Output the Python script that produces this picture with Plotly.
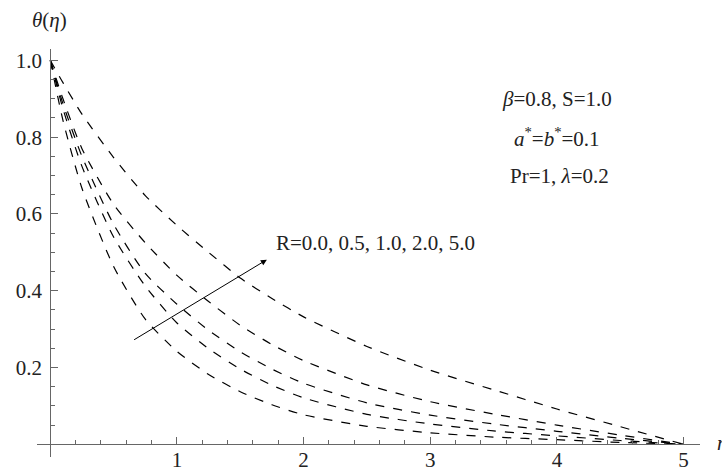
import plotly.graph_objects as go

# ---- data ----
eta = [0, 0.1, 0.25, 0.5, 0.75, 1.0, 1.25, 1.5, 1.75, 2.0, 2.5, 3.0, 3.5, 4.0, 4.5, 5.0]
theta_R0 = [1, 0.844, 0.667, 0.463, 0.326, 0.242, 0.182, 0.137, 0.103, 0.077, 0.047, 0.030, 0.019, 0.012, 0.005, 0]
theta_R05 = [1, 0.874, 0.724, 0.540, 0.412, 0.316, 0.249, 0.196, 0.154, 0.121, 0.078, 0.053, 0.035, 0.022, 0.010, 0]
theta_R1 = [1, 0.887, 0.750, 0.573, 0.445, 0.365, 0.297, 0.241, 0.196, 0.159, 0.108, 0.076, 0.053, 0.034, 0.016, 0]
theta_R2 = [1, 0.900, 0.770, 0.625, 0.525, 0.440, 0.372, 0.310, 0.260, 0.218, 0.155, 0.111, 0.079, 0.050, 0.024, 0]
theta_R5 = [1, 0.942, 0.860, 0.747, 0.648, 0.570, 0.500, 0.433, 0.380, 0.332, 0.255, 0.193, 0.142, 0.092, 0.046, 0]
series = [("R=0.0", theta_R0), ("R=0.5", theta_R05), ("R=1.0", theta_R1),
          ("R=2.0", theta_R2), ("R=5.0", theta_R5)]

x_ticks = [1, 2, 3, 4, 5]
x_tick_text = ["1", "2", "3", "4", "5"]
y_ticks = [0.2, 0.4, 0.6, 0.8, 1.0]
y_tick_text = ["0.2", "0.4", "0.6", "0.8", "1.0"]

FONT = "Liberation Serif, Times New Roman, serif"
AXC = "#666666"
TXT = "#222222"
FS = 21

fig = go.Figure()
for name, vals in series:
    fig.add_trace(go.Scatter(
        x=eta, y=vals, mode="lines", name=name,
        line=dict(color="black", width=1.2, dash="9px,9px", shape="spline", smoothing=0.6),
        showlegend=False,
    ))

xr = [-0.105, 5.13]
yr = [-0.033, 1.0297]
xpos = (0 - yr[0]) / (yr[1] - yr[0])   # paper y of theta = 0
ypos = (0 - xr[0]) / (xr[1] - xr[0])   # paper x of eta = 0

fig.update_layout(
    width=722, height=471,
    margin=dict(l=36.7, r=22, t=49.3, b=13.9, autoexpand=False),
    paper_bgcolor="white", plot_bgcolor="white",
    font=dict(family=FONT, size=FS, color=TXT),
    xaxis=dict(
        range=xr, anchor="free", position=xpos, automargin=False,
        showline=True, linecolor=AXC, linewidth=1,
        showgrid=False, zeroline=False,
        tickmode="array", tickvals=x_ticks, ticktext=x_tick_text,
        ticks="inside", ticklen=7, tickcolor=AXC, tickwidth=1,
        minor=dict(dtick=0.2, tick0=0, ticks="inside", ticklen=4, tickcolor=AXC, tickwidth=1, showgrid=False),
        tickfont=dict(family=FONT, size=FS, color=TXT),
        ticklabelstandoff=-4,
    ),
    yaxis=dict(
        range=yr, anchor="free", position=ypos, automargin=False,
        showline=True, linecolor=AXC, linewidth=1,
        showgrid=False, zeroline=False,
        tickmode="array", tickvals=y_ticks, ticktext=y_tick_text,
        ticks="inside", ticklen=7, tickcolor=AXC, tickwidth=1,
        minor=dict(dtick=0.05, tick0=0, ticks="inside", ticklen=4, tickcolor=AXC, tickwidth=1, showgrid=False),
        tickfont=dict(family=FONT, size=FS, color=TXT),
        ticklabelstandoff=4,
    ),
)

ann_font = dict(family=FONT, size=FS, color=TXT)
fig.add_annotation(x=4.0, y=0.9, xref="x", yref="y", text="<i>β</i>=0.8, S=1.0",
                   showarrow=False, font=ann_font, xanchor="center", yanchor="middle")
fig.add_annotation(x=4.0, y=0.8, xref="x", yref="y",
                   text="<i>a</i><sup>*</sup>=<i>b</i><sup>*</sup>=0.1",
                   showarrow=False, font=ann_font, xanchor="center", yanchor="middle")
fig.add_annotation(x=4.02, y=0.7, xref="x", yref="y", text="Pr=1, <i>λ</i>=0.2",
                   showarrow=False, font=ann_font, xanchor="center", yanchor="middle")
fig.add_annotation(x=2.565, y=0.525, xref="x", yref="y", text="R=0.0, 0.5, 1.0, 2.0, 5.0",
                   showarrow=False, font=ann_font, xanchor="center", yanchor="middle")
# arrow
fig.add_annotation(x=1.71, y=0.481, ax=0.65, ay=0.27, xref="x", yref="y", axref="x", ayref="y",
                   text="", showarrow=True, arrowhead=2, arrowsize=1.2, arrowwidth=1, arrowcolor="black")
# axis labels
fig.add_annotation(x=0.0185, y=1.0718, xref="paper", yref="paper", text="<i>θ</i>(<i>η</i>)",
                   showarrow=False, font=ann_font, xanchor="center", yanchor="middle")
fig.add_annotation(x=1.0226, y=0.0346, xref="paper", yref="paper", text="<i>η</i>",
                   showarrow=False, font=ann_font, xanchor="left", yanchor="middle")

fig.write_html("out.html", config={"displayModeBar": False},
               post_script="document.body.style.margin='0px';document.body.style.padding='0px';")
